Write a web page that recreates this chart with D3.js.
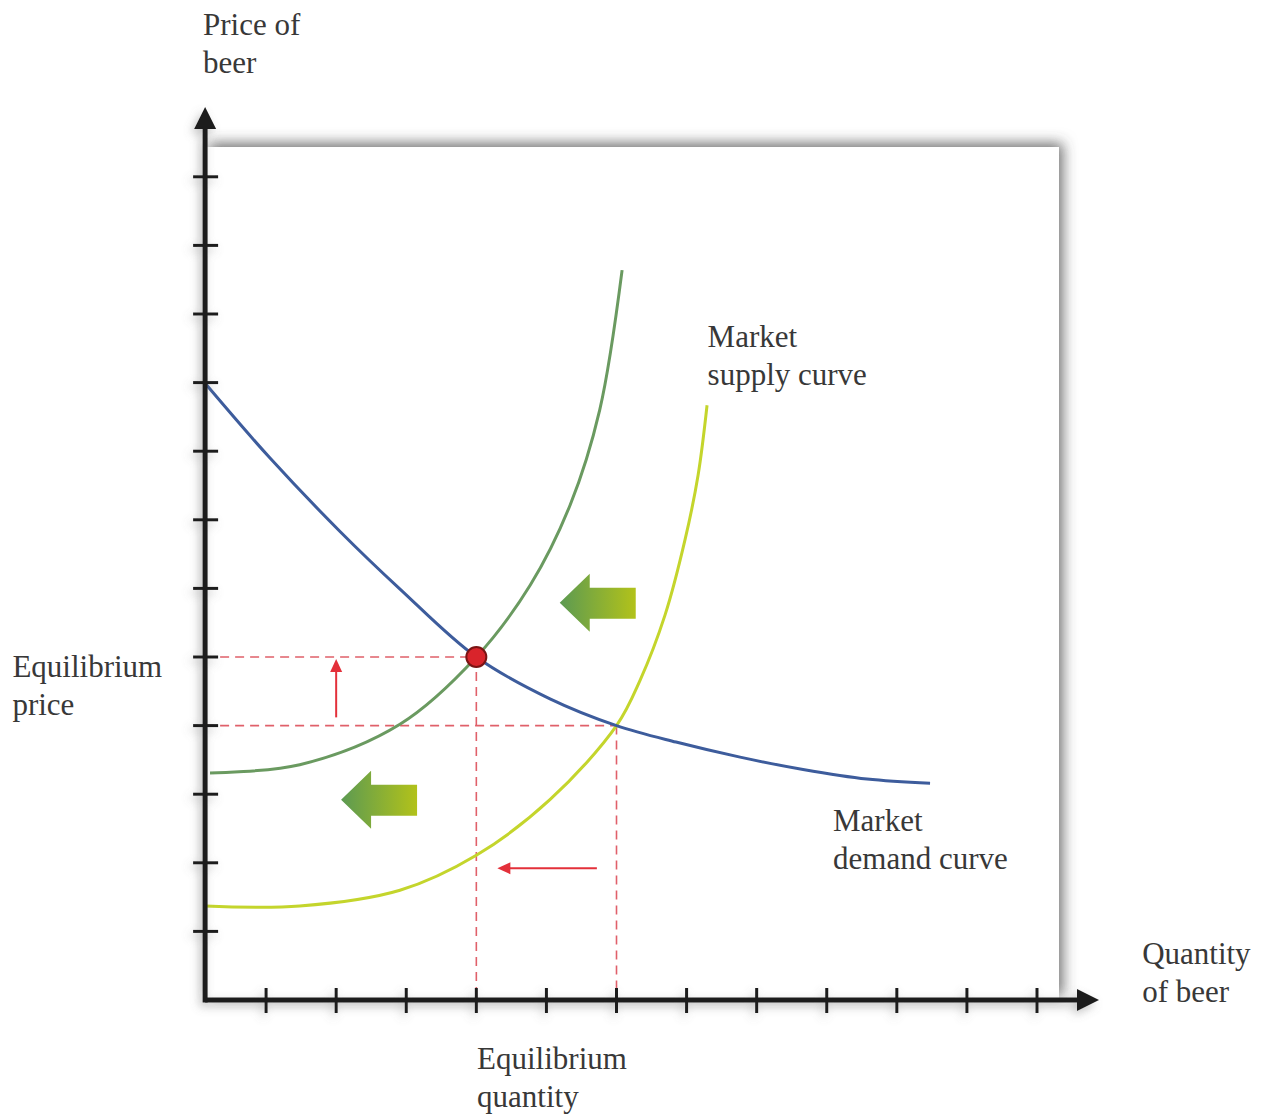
<!DOCTYPE html>
<html><head><meta charset="utf-8">
<script src="https://cdn.jsdelivr.net/npm/d3@7"></script>
<style>body{margin:0;background:#fff}svg{display:block}</style>
</head><body><svg id="c" width="1261" height="1114"></svg>
<script>
// ---- data (in chart units: x = quantity, y = price) ----
const xTicks = [1,2,3,4,5,6,7,8,9,10,11,12];
const yTicks = [1,2,3,4,5,6,7,8,9,10,11,12];
const demandX = [0.13,1.056,2.055,2.911,4.0,5.051,6.0,6.849,7.763,8.662,9.575,10.474];
const demandY = [8.99,7.90,6.83,5.99,5.0,4.39,4.0,3.76,3.54,3.36,3.22,3.16];
const supply1X = [0.2,1.48,2.91,4.0,4.77,5.34,5.76,6.08];
const supply1Y = [3.31,3.43,4.02,5.0,6.05,7.22,8.6,10.64];
const supply2X = [0.13,1.48,2.91,4.0,5.05,6.0,6.336,6.692,6.978,7.164,7.292];
const supply2Y = [1.37,1.37,1.60,2.11,2.92,4.0,4.66,5.61,6.71,7.65,8.67];
const equilibrium = [4, 5];
const newPoint = [6, 4];
const shiftArrowsX = [5.19, 2.07];   // tips of green block arrows
const shiftArrowsY = [5.79, 2.92];
const priceArrow = {x: 2.0, from: 4.12, to: 4.97};
const qtyArrow = {y: 1.92, from: 5.72, to: 4.3};
const labels = [
  {lines:["Price of","beer"], x:0.1, y:14.07},
  {lines:["Equilibrium","price"], x:-2.62, y:4.71},
  {lines:["Equilibrium","quantity"], x:4.01, y:-1.01},
  {lines:["Market","supply curve"], x:7.3, y:9.52},
  {lines:["Market","demand curve"], x:9.09, y:2.47},
  {lines:["Quantity","of beer"], x:13.5, y:0.52}
];

const svg = d3.select("#c");
const x = d3.scaleLinear().domain([0,12]).range([196,1037]);
const y = d3.scaleLinear().domain([0,12]).range([1000,176.8]);
const X0 = x(0.13), Y0 = y(0);

const defs = svg.append("defs");
const f = defs.append("filter").attr("id","sh").attr("x","-20%").attr("y","-20%").attr("width","140%").attr("height","140%");
f.append("feDropShadow").attr("dx",4).attr("dy",-4).attr("stdDeviation",7).attr("flood-color","#444").attr("flood-opacity",0.75);
const f2 = defs.append("filter").attr("id","sh2").attr("x","-20%").attr("y","-20%").attr("width","140%").attr("height","140%");
f2.append("feDropShadow").attr("dx",-3).attr("dy",4).attr("stdDeviation",5).attr("flood-color","#777").attr("flood-opacity",0.45);
const g = defs.append("linearGradient").attr("id","gr").attr("x1","0").attr("x2","1").attr("y1","0").attr("y2","0");
g.append("stop").attr("offset","0").attr("stop-color","#5c9a52");
g.append("stop").attr("offset","1").attr("stop-color","#b2c21a");

// plot box with shadow
svg.append("rect").attr("x",X0).attr("y",147).attr("width",1059-X0).attr("height",Y0-147)
  .attr("fill","#fff").attr("filter","url(#sh)");

// dashed guide lines
const dash = svg.append("g").attr("stroke","#e0606a").attr("stroke-width",1.6).attr("stroke-dasharray","9,6").attr("fill","none");
[equilibrium,newPoint].forEach(p=>{
  dash.append("line").attr("x1",X0).attr("x2",x(p[0])).attr("y1",y(p[1])).attr("y2",y(p[1]));
  dash.append("line").attr("x1",x(p[0])).attr("x2",x(p[0])).attr("y1",y(p[1])).attr("y2",Y0);
});

// curves
const line = d3.line().x(d=>x(d[0])).y(d=>y(d[1])).curve(d3.curveCatmullRom.alpha(0.5));
svg.append("path").datum(d3.zip(supply2X,supply2Y)).attr("d",line).attr("fill","none").attr("stroke","#c4d52c").attr("stroke-width",3);
svg.append("path").datum(d3.zip(supply1X,supply1Y)).attr("d",line).attr("fill","none").attr("stroke","#6a9a60").attr("stroke-width",3);
svg.append("path").datum(d3.zip(demandX,demandY)).attr("d",line).attr("fill","none").attr("stroke","#3d5c9c").attr("stroke-width",3);

// green block arrows
d3.zip(shiftArrowsX,shiftArrowsY).forEach(([ax,ay])=>{
  const tx=x(ax), ty=y(ay);
  const p=`M${tx},${ty} L${tx+30},${ty-29} L${tx+30},${ty-15} L${tx+76},${ty-15} L${tx+76},${ty+16} L${tx+30},${ty+16} L${tx+30},${ty+29} Z`;
  svg.append("path").attr("d",p).attr("fill","url(#gr)");
});

// red arrows
const red="#e3303a";
svg.append("line").attr("x1",x(priceArrow.x)).attr("x2",x(priceArrow.x)).attr("y1",y(priceArrow.from)).attr("y2",y(priceArrow.to)+10).attr("stroke",red).attr("stroke-width",2);
svg.append("path").attr("d",`M${x(priceArrow.x)},${y(priceArrow.to)} l-6,13 l12,0 Z`).attr("fill",red);
svg.append("line").attr("x1",x(qtyArrow.from)).attr("x2",x(qtyArrow.to)+10).attr("y1",y(qtyArrow.y)).attr("y2",y(qtyArrow.y)).attr("stroke",red).attr("stroke-width",2);
svg.append("path").attr("d",`M${x(qtyArrow.to)},${y(qtyArrow.y)} l13,-6 l0,12 Z`).attr("fill",red);

// axes
const ax = svg.append("g").attr("filter","url(#sh2)");
const axc="#1c1c1c";
ax.append("line").attr("x1",X0).attr("x2",1085).attr("y1",Y0).attr("y2",Y0).attr("stroke",axc).attr("stroke-width",5);
ax.append("line").attr("x1",X0).attr("x2",X0).attr("y1",Y0+2.5).attr("y2",122).attr("stroke",axc).attr("stroke-width",5);
ax.append("path").attr("d",`M${X0},107 L${X0-11},129 L${X0+11},129 Z`).attr("fill",axc);
ax.append("path").attr("d",`M1099,${Y0} L1077,${Y0-11} L1077,${Y0+11} Z`).attr("fill",axc);
ax.selectAll(".xt").data(xTicks).join("line").attr("x1",d=>x(d)).attr("x2",d=>x(d)).attr("y1",Y0-12).attr("y2",Y0+13).attr("stroke",axc).attr("stroke-width",3);
ax.selectAll(".yt").data(yTicks).join("line").attr("y1",d=>y(d)).attr("y2",d=>y(d)).attr("x1",X0-12).attr("x2",X0+13).attr("stroke",axc).attr("stroke-width",3);

// equilibrium dot
svg.append("circle").attr("cx",x(equilibrium[0])).attr("cy",y(equilibrium[1])).attr("r",10).attr("fill","#d9242b").attr("stroke","#7a1414").attr("stroke-width",2);

// labels
labels.forEach(l=>{
  const t=svg.append("text").attr("x",x(l.x)).attr("y",y(l.y))
    .attr("font-family","\"Liberation Serif\", serif").attr("font-size",31).attr("fill","#383838");
  l.lines.forEach((s,i)=>t.append("tspan").attr("x",x(l.x)).attr("dy",i?38:0).text(s));
});
</script></body></html>
